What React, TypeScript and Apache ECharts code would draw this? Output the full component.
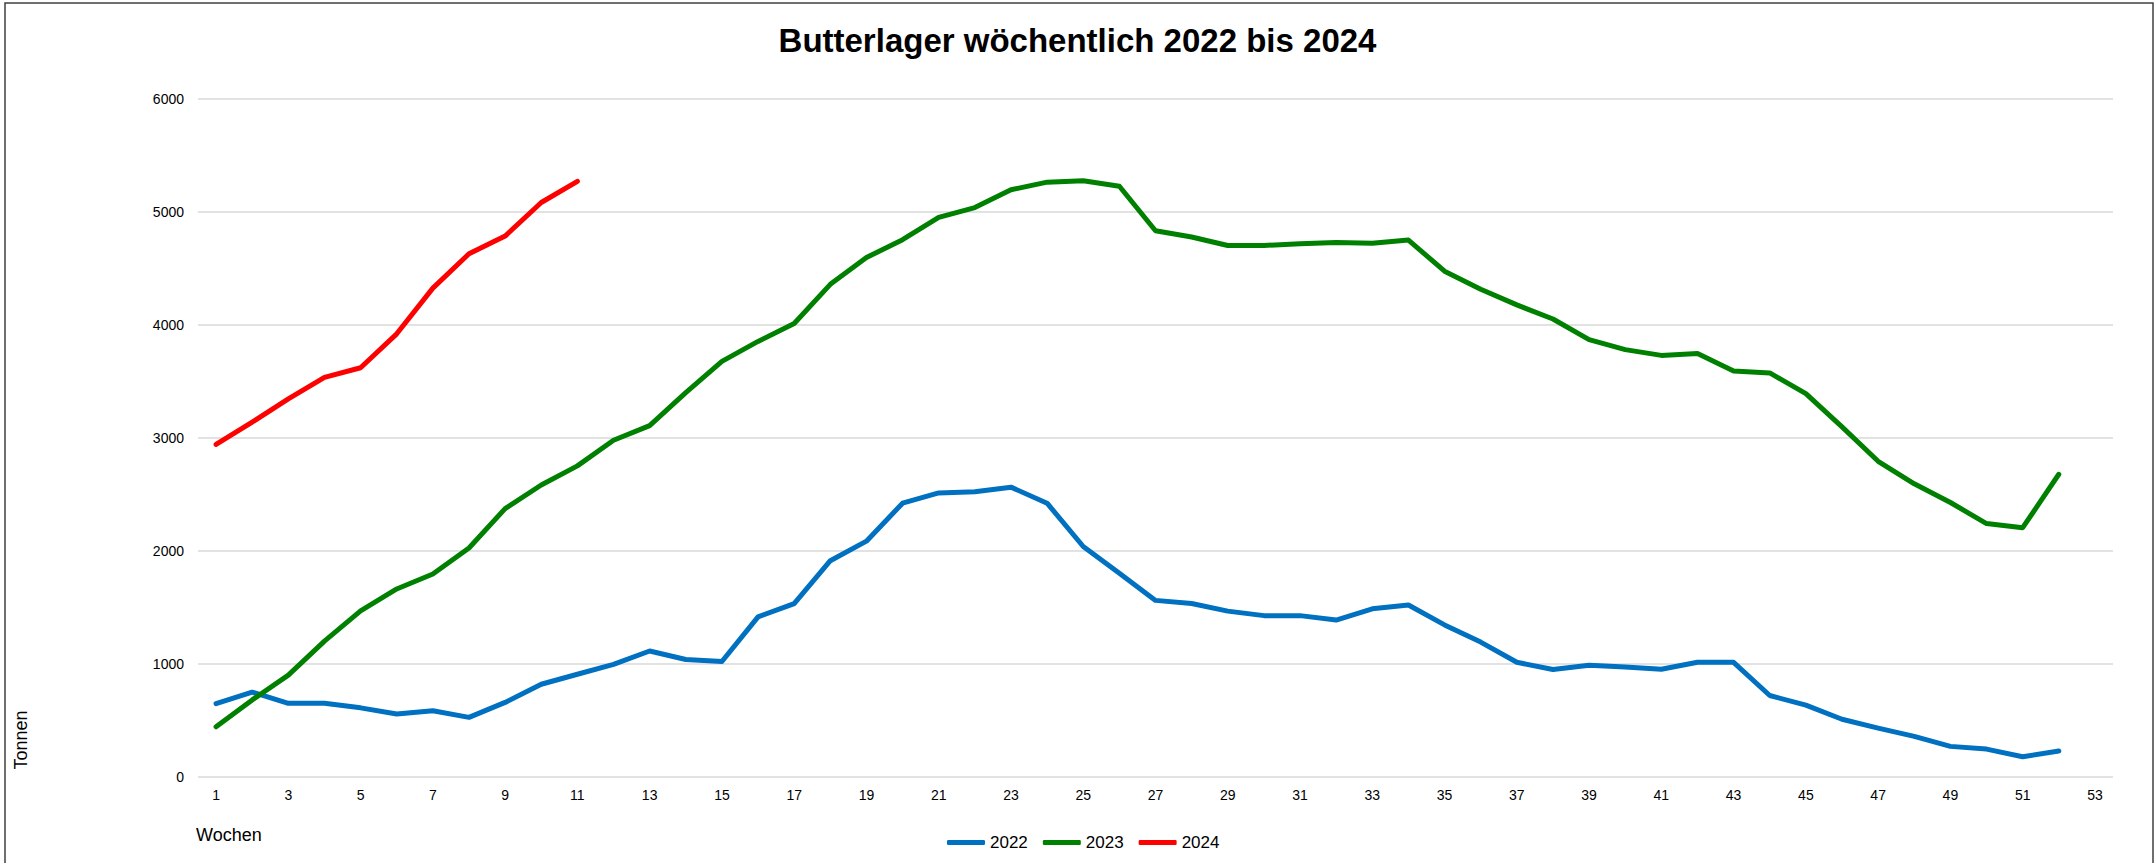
import React, { useEffect, useRef } from "react";
import * as echarts from "echarts";

const weeks: string[] = Array.from({ length: 53 }, (_, i) => String(i + 1));

const data2022: number[] = [
  649, 751, 652, 652, 612, 557, 587, 528, 660, 821,
  909, 997, 1115, 1040, 1022, 1417, 1535, 1914, 2087, 2423,
  2514, 2525, 2565, 2423, 2040, 1803, 1563, 1535, 1468, 1428,
  1428, 1389, 1488, 1522, 1346, 1194, 1015, 951, 988, 974,
  954, 1015, 1015, 721, 636, 511, 433, 359, 271, 247,
  179, 230,
];

const data2023: number[] = [
  444, 682, 902, 1202, 1470, 1664, 1796, 2027, 2375, 2584,
  2753, 2980, 3110, 3401, 3678, 3855, 4013, 4360, 4597, 4755,
  4952, 5039, 5197, 5264, 5276, 5228, 4834, 4779, 4704, 4704,
  4719, 4731, 4723, 4752, 4476, 4317, 4178, 4053, 3870, 3782,
  3731, 3748, 3593, 3576, 3393, 3099, 2794, 2595, 2429, 2243,
  2206, 2679,
];

const data2024: number[] = [
  2943, 3141, 3347, 3537, 3622, 3922, 4326, 4630, 4787, 5084, 5271,
];

const seriesNames: string[] = ["2022", "2023", "2024"];
const seriesColors: string[] = ["#0070C0", "#008000", "#FF0000"];

const titleText = "Butterlager wöchentlich 2022 bis 2024";
const yAxisName = "Tonnen";
const xAxisName = "Wochen";

export default function App() {
  const ref = useRef<HTMLDivElement>(null);

  useEffect(() => {
    document.body.style.margin = "0";
    if (!ref.current) return;
    const chart = echarts.init(ref.current, undefined, { renderer: "svg" });
    const font = "'Liberation Sans', Arial, sans-serif";
    const allData = [data2022, data2023, data2024];
    chart.setOption({
      animation: false,
      backgroundColor: "#ffffff",
      textStyle: { fontFamily: font },
      title: {
        text: titleText,
        left: "center",
        top: 19,
        textStyle: {
          fontFamily: font,
          fontSize: 33,
          fontWeight: "bold",
          color: "#000000",
        },
      },
      legend: {
        data: seriesNames,
        left: 942,
        top: 829,
        itemWidth: 38,
        itemHeight: 5,
        itemGap: 15,
        icon: "roundRect",
        textStyle: { fontFamily: font, fontSize: 17, color: "#000000" },
      },
      grid: {
        left: 198,
        right: 42,
        top: 99,
        bottom: 86,
        containLabel: false,
      },
      xAxis: {
        type: "category",
        data: weeks,
        boundaryGap: true,
        axisLine: { show: false },
        axisTick: { show: false },
        axisLabel: {
          interval: 1,
          margin: 11,
          fontFamily: font,
          fontSize: 14,
          color: "#000000",
        },
        splitLine: { show: false },
      },
      yAxis: {
        type: "value",
        min: 0,
        max: 6000,
        interval: 1000,
        axisLine: { show: false },
        axisTick: { show: false },
        axisLabel: {
          margin: 14,
          fontFamily: font,
          fontSize: 14,
          color: "#000000",
          formatter: (v: number) => String(v),
        },
        splitLine: { lineStyle: { color: "#d9d9d9", width: 1.5 } },
      },
      graphic: [
        {
          type: "rect",
          shape: { x: 5, y: 3, width: 2148, height: 900 },
          style: { fill: "none", stroke: "#404040", lineWidth: 1.5 },
          silent: true,
        },
        {
          type: "text",
          x: 21,
          y: 740,
          rotation: Math.PI / 2,
          style: {
            text: yAxisName,
            fontFamily: font,
            fontSize: 18,
            fill: "#000000",
            textAlign: "center",
            textVerticalAlign: "middle",
          },
        },
        {
          type: "text",
          x: 196,
          y: 835,
          style: {
            text: xAxisName,
            fontFamily: font,
            fontSize: 18,
            fill: "#000000",
            textAlign: "left",
            textVerticalAlign: "middle",
          },
        },
      ],
      series: seriesNames.map((name, i) => ({
        name,
        type: "line",
        data: allData[i],
        showSymbol: false,
        symbol: "none",
        color: seriesColors[i],
        lineStyle: { color: seriesColors[i], width: 5, cap: "round", join: "round" },
        emphasis: { disabled: true },
      })),
    });
    return () => {
      chart.dispose();
    };
  }, []);

  return <div ref={ref} style={{ width: 2155, height: 863 }} />;
}
